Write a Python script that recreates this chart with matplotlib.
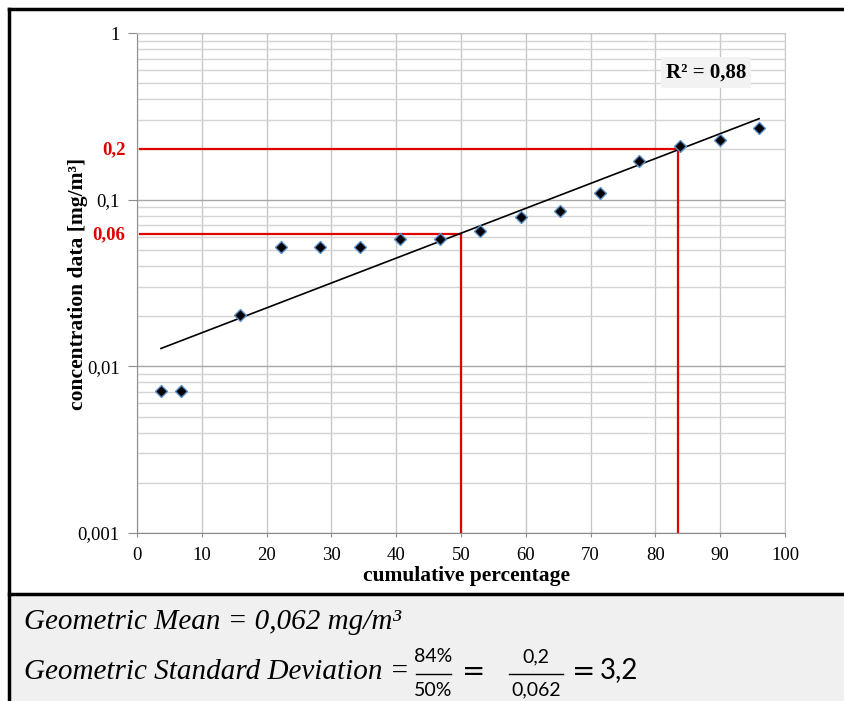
import numpy as np
import matplotlib.pyplot as plt
from matplotlib.ticker import FixedLocator, FixedFormatter, NullFormatter
from matplotlib.lines import Line2D
from matplotlib.patches import Rectangle

# Cumulative percentage vs. measured concentration (log-probability style plot)
cum_pct = [3.7, 6.8, 15.9, 22.2, 28.2, 34.4, 40.6, 46.8, 52.9, 59.2, 65.3, 71.5, 77.5, 83.8, 90.0, 96.0]
conc = [0.0071, 0.0071, 0.0202, 0.052, 0.052, 0.052, 0.058, 0.058, 0.065, 0.079, 0.085, 0.11, 0.171, 0.209, 0.228, 0.268]

# Exponential trendline end points
trend_x = [3.7, 96.0]
trend_y = [0.0128, 0.306]
r_squared = "0,88"

# Geometric mean / 84th percentile reading lines
gm_pct, gm_val = 50.0, 0.062
p84_pct, p84_val = 83.5, 0.2

y_ticks = [0.001, 0.01, 0.1, 1]
y_tick_labels = ["0,001", "0,01", "0,1", "1"]
x_ticks = list(range(0, 101, 10))

W, H = 845, 701
fig = plt.figure(figsize=(W / 100, H / 100), dpi=100)
serif = "Liberation Serif"
red = "#e00000"


def fx(px):
    return px / W


def fy(py):
    return 1 - py / H


# frame and formula panel
fig.patches.append(Rectangle((fx(8), 0), 1 - fx(8), fy(594), transform=fig.transFigure,
                             facecolor="#f0f0f0", edgecolor="none", zorder=0))
fig.lines.append(Line2D([fx(9), 1], [fy(9), fy(9)], transform=fig.transFigure, color="black", lw=2.5))
fig.lines.append(Line2D([fx(9), fx(9)], [0, fy(9)], transform=fig.transFigure, color="black", lw=2.5))
fig.lines.append(Line2D([fx(9), 1], [fy(594), fy(594)], transform=fig.transFigure, color="black", lw=2.5))

ax = fig.add_axes([fx(137), fy(533), (785 - 137) / W, (533 - 33) / H])
ax.set_yscale("log")
ax.set_xlim(0, 100)
ax.set_ylim(0.001, 1)

# grid
ax.yaxis.set_major_locator(FixedLocator(y_ticks))
ax.yaxis.set_major_formatter(FixedFormatter(y_tick_labels))
ax.yaxis.set_minor_locator(FixedLocator([m * 10.0 ** e for e in (-3, -2, -1) for m in range(2, 10)]))
ax.yaxis.set_minor_formatter(NullFormatter())
ax.xaxis.set_major_locator(FixedLocator(x_ticks))
ax.grid(True, which="major", axis="y", color="#a6a6a6", lw=1.0)
ax.grid(True, which="minor", axis="y", color="#d4d4d4", lw=1.0)
ax.grid(True, which="major", axis="x", color="#c8c8c8", lw=1.0)
ax.set_axisbelow(True)
for side in ("top", "right"):
    ax.spines[side].set_color("#c8c8c8")
for side in ("left", "bottom"):
    ax.spines[side].set_color("#8c8c8c")
ax.tick_params(axis="y", which="major", direction="out", length=6.5, color="#8c8c8c", pad=6,
               labelsize=13.5, labelfontfamily=serif)
ax.tick_params(axis="y", which="minor", length=0)
ax.tick_params(axis="x", direction="out", length=3, color="#8c8c8c", pad=7,
               labelsize=13.5, labelfontfamily=serif)

# reading lines
ax.plot([0.5, p84_pct], [p84_val, p84_val], color=red, lw=1.6, zorder=2)
ax.plot([p84_pct, p84_pct], [p84_val, 0.001], color=red, lw=1.6, zorder=2)
ax.plot([0.5, gm_pct], [gm_val, gm_val], color=red, lw=1.6, zorder=2)
ax.plot([gm_pct, gm_pct], [gm_val, 0.001], color=red, lw=1.6, zorder=2)

ax.plot(trend_x, trend_y, color="black", lw=1.2, zorder=3)
ax.plot(cum_pct, conc, linestyle="none", marker="D", ms=6.5, mfc="black",
        mec="#5b8fc9", mew=1.0, zorder=4)

ax.text(87.8, 0.58, "R² = " + r_squared, fontfamily=serif, fontweight="bold", fontsize=15,
        ha="center", va="center", zorder=5,
        bbox=dict(boxstyle="square,pad=0.25", facecolor="#f2f2f2", edgecolor="none"))

ytr = ax.get_yaxis_transform()
ax.text(-0.018, p84_val, "0,2", transform=ytr, color=red, fontfamily=serif, fontweight="bold",
        fontsize=13.5, ha="right", va="center")
ax.text(-0.018, gm_val, "0,06", transform=ytr, color=red, fontfamily=serif, fontweight="bold",
        fontsize=13.5, ha="right", va="center")

ax.set_xlabel("cumulative percentage", fontfamily=serif, fontweight="bold", fontsize=15.5)
ax.xaxis.set_label_coords(0.508, -0.066)
ax.set_ylabel("concentration data [mg/m³]", fontfamily=serif, fontweight="bold", fontsize=15.5)
ax.yaxis.set_label_coords(-0.075, 0.498)

# formula panel text
fig.text(fx(24), fy(622), "Geometric Mean = 0,062 mg/m³", fontfamily=serif, style="italic",
         fontsize=21, ha="left", va="center")
fig.text(fx(24), fy(672), "Geometric Standard Deviation =", fontfamily=serif, style="italic",
         fontsize=21, ha="left", va="center")

sans = "Lato"
fig.text(fx(433), fy(657), "84%", fontfamily=sans, fontsize=14, ha="center", va="center")
fig.text(fx(433), fy(690), "50%", fontfamily=sans, fontsize=14, ha="center", va="center")
fig.lines.append(Line2D([fx(416), fx(451)], [fy(674), fy(674)], transform=fig.transFigure,
                        color="black", lw=1.0))
fig.text(fx(474), fy(672), "=", fontfamily="DejaVu Sans", fontsize=20, ha="center", va="center")
fig.text(fx(536), fy(657), "0,2", fontfamily=sans, fontsize=14, ha="center", va="center")
fig.text(fx(536), fy(690), "0,062", fontfamily=sans, fontsize=14, ha="center", va="center")
fig.lines.append(Line2D([fx(509), fx(563)], [fy(674), fy(674)], transform=fig.transFigure,
                        color="black", lw=1.0))
fig.text(fx(584), fy(672), "=", fontfamily="DejaVu Sans", fontsize=20, ha="center", va="center")
fig.text(fx(600), fy(670), "3,2", fontfamily=sans, fontsize=20, ha="left", va="center")

fig.savefig("out.png", dpi=100)
